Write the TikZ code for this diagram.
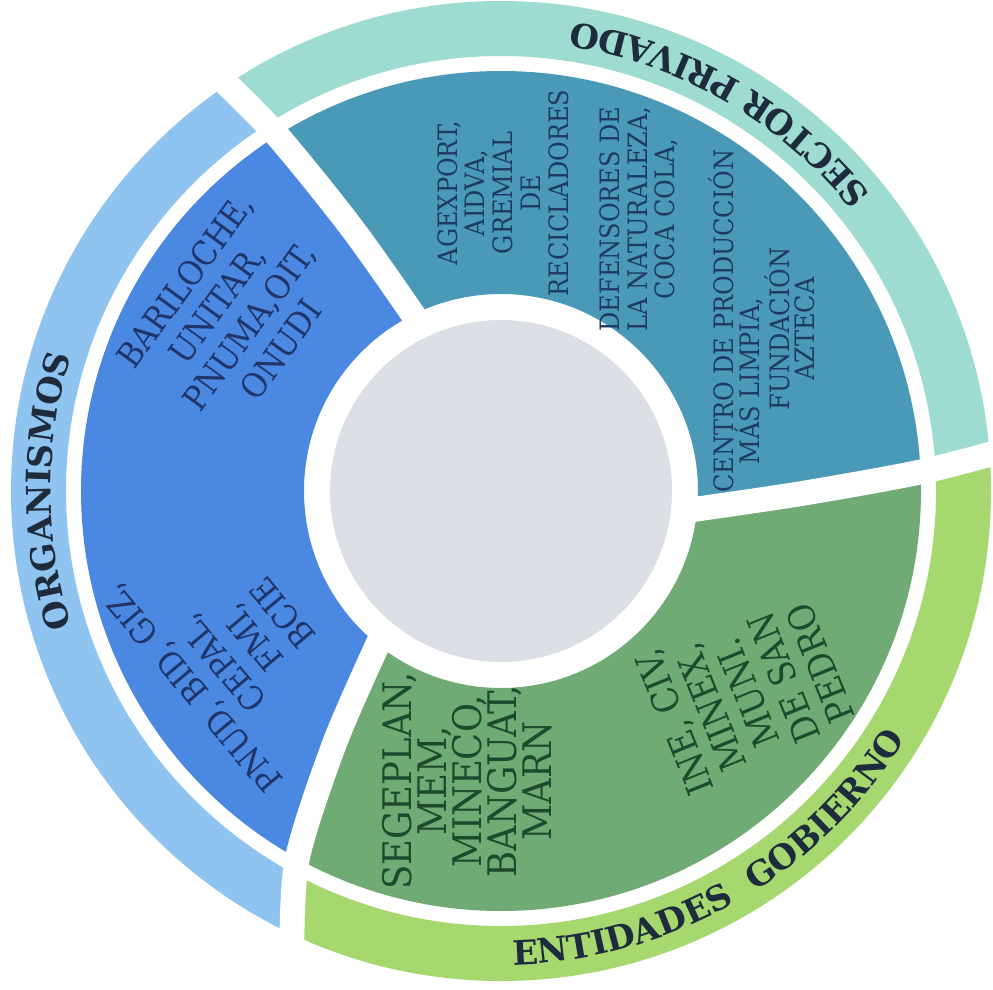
\documentclass[tikz,border=0pt]{standalone}
\usepackage{fontspec}
\setmainfont{DejaVu Serif Condensed}
\newfontfamily\ringfont{DejaVu Serif}
\usetikzlibrary{decorations.text}
\definecolor{centrec}{HTML}{DCDFE5}
\definecolor{blueseg}{HTML}{4A88E2}
\definecolor{tealseg}{HTML}{4A9AB7}
\definecolor{greenseg}{HTML}{70AA74}
\definecolor{bluering}{HTML}{8EC4EF}
\definecolor{tealring}{HTML}{9EDCD2}
\definecolor{greenring}{HTML}{A7D870}
\definecolor{bluetxt}{HTML}{1F3468}
\definecolor{tealtxt}{HTML}{1E3A62}
\definecolor{greentxt}{HTML}{1D4A2C}
\definecolor{ringtxt}{HTML}{1E2B3C}
\tikzstyle{every picture}+=[
  bnode/.style={align=center,text=bluetxt,font=\fontsize{24}{28}\selectfont},
  tnode/.style={align=center,text=tealtxt,rotate=90,font=\fontsize{19}{19.8}\selectfont},
  gnode/.style={align=center,text=greentxt,font=\fontsize{28}{24.8}\selectfont},
  gapline/.style={draw=white,line width=0.62cm},
  ringlbl/.style={decorate,decoration={text along path,text align=center,text color=ringtxt}}
]
\newcommand*{\segteal}[1]{\fill[#1] (0,0) -- plot[smooth] coordinates {(-6.2:4.6) (-0.5:7.5) (2.6:10.5) (4.6:12.6)} arc[start angle=4.6,end angle=124.3,radius=12.6] -- plot[smooth] coordinates {(124.3:12.6) (122.2:10.5) (119.5:7.5) (115.9:4.6)} -- cycle}
\newcommand*{\segblue}[1]{\fill[#1] (0,0) -- plot[smooth] coordinates {(115.9:4.6) (119.5:7.5) (122.2:10.5) (124.3:12.6)} arc[start angle=124.3,end angle=245.5,radius=12.6] -- plot[smooth] coordinates {(245.5:12.6) (241:10.5) (236.5:7.5) (230.2:4.6)} -- cycle}
\newcommand*{\seggreen}[1]{\fill[#1] (0,0) -- plot[smooth] coordinates {(230.2:4.6) (236.5:7.5) (241:10.5) (245.5:12.6)} arc[start angle=245.5,end angle=364.6,radius=12.6] -- plot[smooth] coordinates {(4.6:12.6) (2.6:10.5) (-0.5:7.5) (-6.2:4.6)} -- cycle}
\def\rcore{4.275}
\def\rin{4.925}
\def\rseg{10.5}
\def\rring{10.875}
\def\rout{12.25}

\begin{document}
\begin{tikzpicture}
      \fill[white] (-12.525,-12.45) rectangle (12.3,12.275);
      \useasboundingbox (-12.525,-12.45) rectangle (12.3,12.275);
      %
      \begin{scope}[even odd rule]
        \clip (0,0) circle (\rseg) (0,0) circle (\rin);
        \segteal{tealseg};
        \segblue{blueseg};
        \seggreen{greenseg};
      \end{scope}
      \begin{scope}[even odd rule]
        \clip (0,0) circle (\rout) (0,0) circle (\rring);
        \segteal{tealring};
        \segblue{bluering};
        \seggreen{greenring};
      \end{scope}
      %
      \draw[gapline] plot[smooth] coordinates {(-6.2:4.6) (-0.5:7.5) (2.6:10.5) (4.6:12.6)};
      \draw[gapline] plot[smooth] coordinates {(115.9:4.6) (119.5:7.5) (122.2:10.5) (124.3:12.6)};
      \draw[gapline] plot[smooth] coordinates {(230.2:4.6) (236.5:7.5) (241:10.5) (245.5:12.6)};
      \node[circle,fill=centrec,minimum size=2*\rcore cm,inner sep=0pt] (core) at (0,0) {};
      %
      \path[ringlbl,decoration={text={|\ringfont\bfseries\fontsize{24}{28}\selectfont|ORGANISMOS}}]
        (215:11.25) arc[start angle=215,end angle=145,radius=11.25];
      \path[ringlbl,decoration={text={|\ringfont\bfseries\fontsize{24}{28}\selectfont|SECTOR PRIVADO}}]
        (20:11.85) arc[start angle=20,end angle=100,radius=11.85];
      \path[ringlbl,decoration={text={|\ringfont\bfseries\fontsize{24}{28}\selectfont|ENTIDADES{\ \ }GOBIERNO}}]
        (255:11.85) arc[start angle=255,end angle=345,radius=11.85];
      %
      \node[bnode,rotate=54] (orgA) at (-6.7,4.4) {BARILOCHE,\\UNITAR,\\PNUMA,OIT,\\ONUDI};
      \node[bnode,rotate=130] (orgB) at (-6.6,-4.0) {PNUD, BID, GIZ,\\CEPAL,\\FMI,\\BCIE};
      %
      \node[tnode] (privA) at (0.05,7.45) {AGEXPORT,\\AIDVA,\\GREMIAL\\DE\\RECICLADORES};
      \node[tnode] (privB) at (3.45,6.8) {DEFENSORES DE\\LA NATURALEZA,\\COCA COLA,};
      \node[tnode] (privC) at (5.5,4.25) {CENTRO DE PRODUCCIÓN};
      \node[tnode] (privD) at (6.2,2.75) {MÁS LIMPIA,};
      \node[tnode] (privE) at (6.9,4.05) {FUNDACIÓN};
      \node[tnode] (privF) at (7.6,4.05) {AZTECA};
      %
      \node[gnode,rotate=90] (govA) at (-0.85,-7.25) {SEGEPLAN,\\MEM,\\MINECO,\\BANGUAT,\\MARN};
      \node[gnode,rotate=112,font=\fontsize{26}{28}\selectfont] (govB) at (6.15,-5.05) {INE, CIV,\\MINEX,\\MUNI.\\DE SAN\\PEDRO};
\end{tikzpicture}
\end{document}
